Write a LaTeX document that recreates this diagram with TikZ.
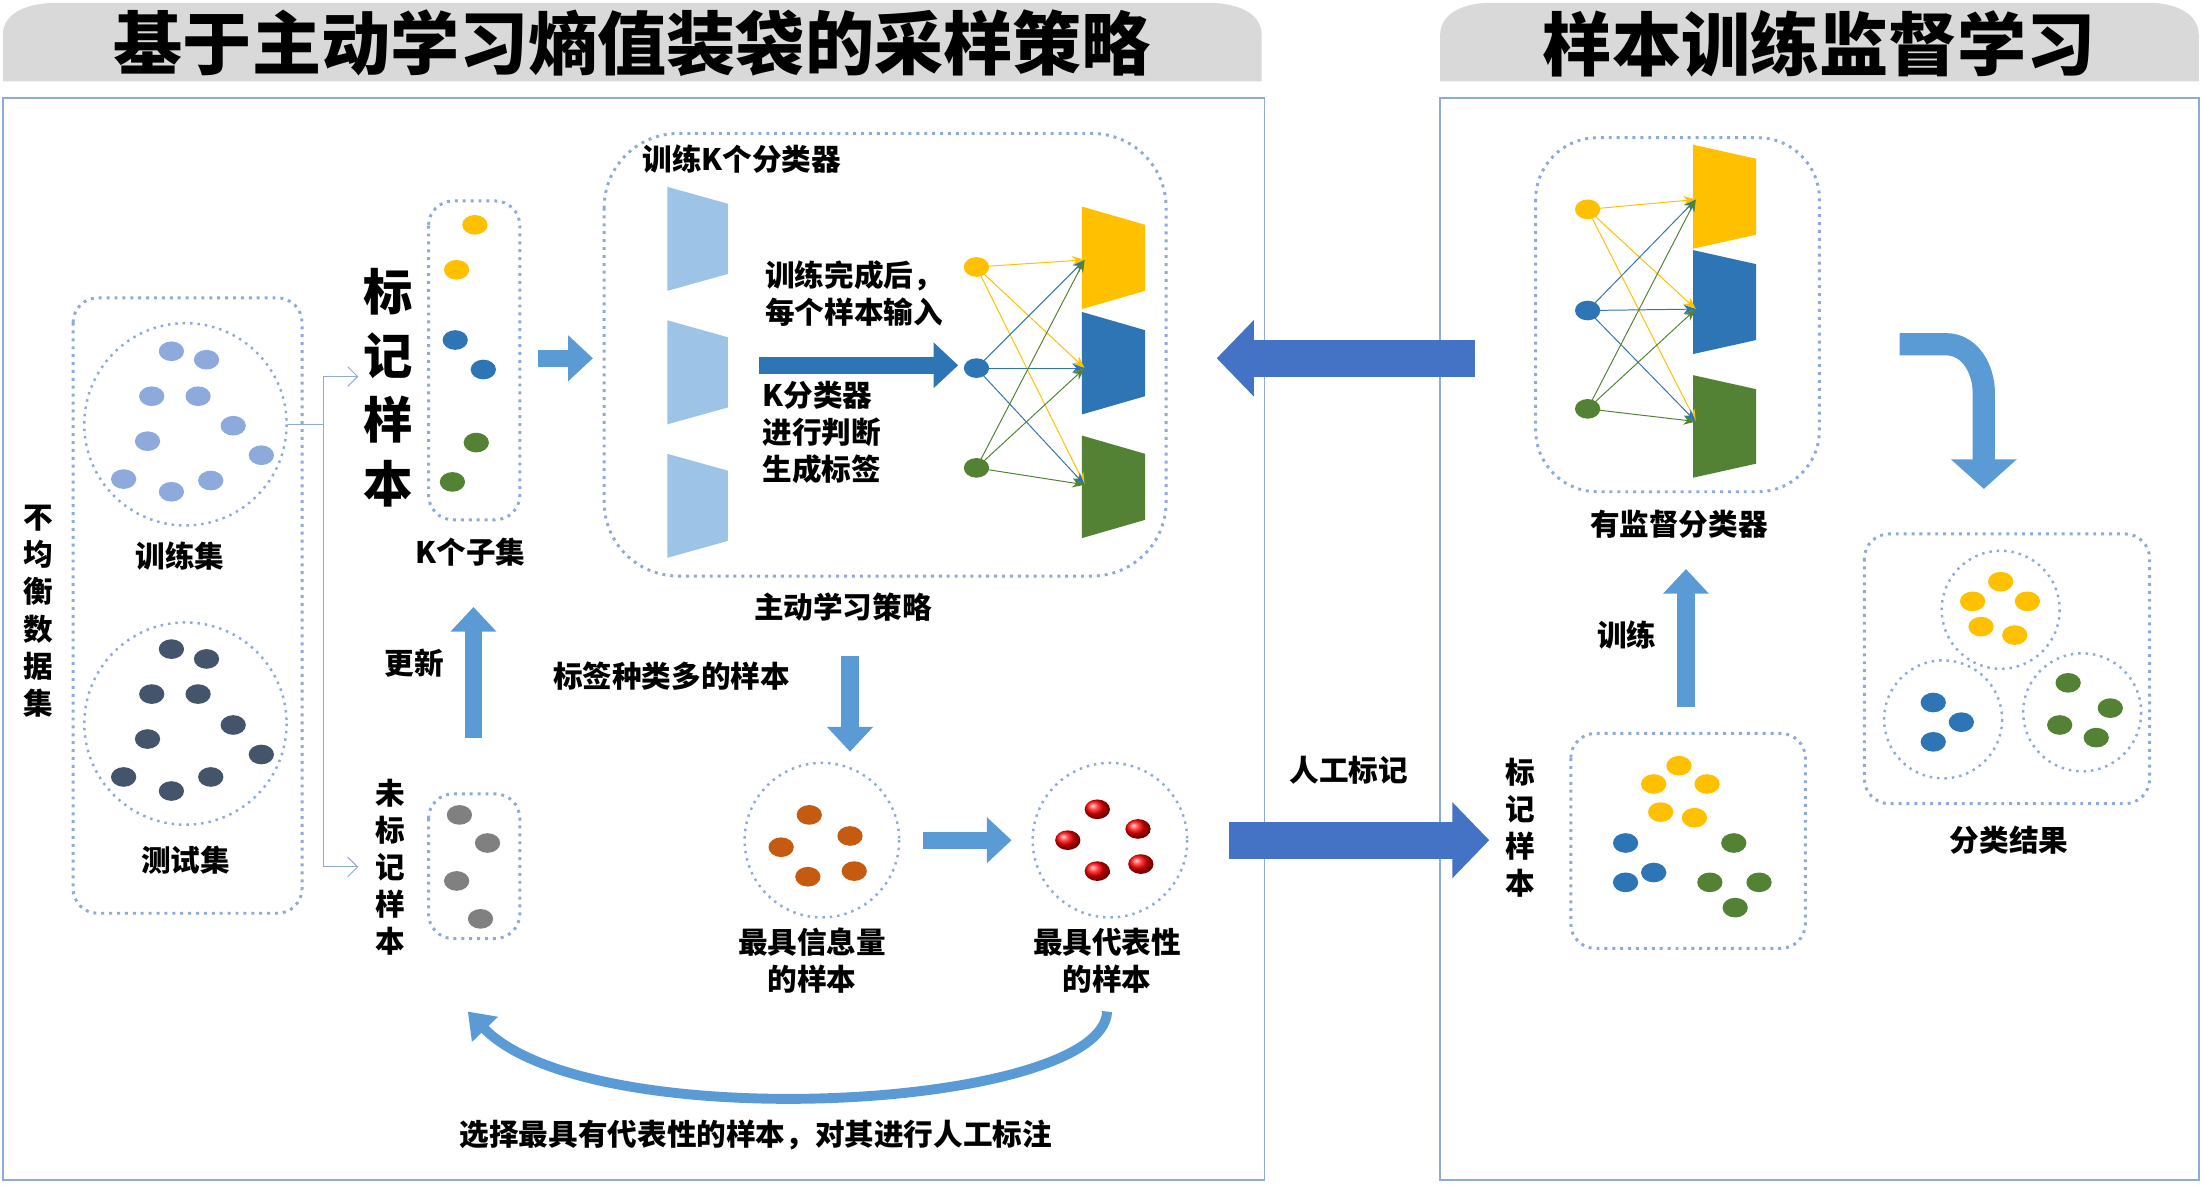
\documentclass[tikz,border=0pt]{standalone}
\usepackage{fontspec}
\setmainfont{Noto Sans CJK SC}
\usetikzlibrary{positioning, arrows.meta, calc, shapes.geometric}
\definecolor{frameblue}{HTML}{8EA9DB}
\definecolor{ybl}{HTML}{FFC000}
\definecolor{mbl}{HTML}{2E75B6}
\definecolor{gbl}{HTML}{548235}
\definecolor{ltb}{HTML}{9DC3E6}
\definecolor{abl}{HTML}{4472C4}
\definecolor{sbl}{HTML}{5B9BD5}
\definecolor{dgr}{HTML}{44546A}
\definecolor{org}{HTML}{C55A11}
\tikzset{
  lbl/.style={font=\bfseries\fontsize{12}{15}\selectfont, align=center},
  panel/.style={draw=frameblue, line width=0.8pt},
  dotbox/.style={draw=frameblue, dotted, line width=1.2pt, rounded corners=10pt},
  dotcirc/.style={draw=frameblue, dotted, line width=1pt},
  blk/.style={-{Triangle[length=10pt, width=18pt]}, line width=7pt, color=sbl},
}
\newcommand{\dotat}[3]{\fill[#1] (#2,#3) ellipse (9 and 7);}
\begin{document}
\begin{tikzpicture}[x=0.02cm, y=-0.02cm]
\useasboundingbox (0,0) rectangle (1568,843);
% title tabs
\fill[gray!30] (2,58) -- (2,25) to[out=90,in=180] (40,2) -- (860,2) to[out=0,in=90] (898,25) -- (898,58) -- cycle;
\node[font=\bfseries\fontsize{28}{32}\selectfont] (t1) at (450,31) {基于主动学习熵值装袋的采样策略};
\fill[gray!30] (1025,58) -- (1025,25) to[out=90,in=180] (1060,2) -- (1530,2) to[out=0,in=90] (1565,25) -- (1565,58) -- cycle;
\node[font=\bfseries\fontsize{28}{32}\selectfont] (t2) at (1295,31) {样本训练监督学习};
\draw[panel] (2,70) rectangle (900,840);
\draw[panel] (1025,70) rectangle (1565,840);

% data set
\node[lbl, align=center] (dset) at (27,435) {不\\均\\衡\\数\\据\\集};
\draw[dotbox] (52,212) rectangle (215,650);
\draw[dotcirc] (132,302) circle (72);
\foreach \x/\y in {122/250,147/256,108/282,141/282,166/303,105/314,186/324,88/341,122/350,150/342}
  {\dotat{frameblue}{\x}{\y}}
\node[lbl] (train) at (128,396) {训练集};
\draw[dotcirc] (132,515) circle (72);
\foreach \x/\y in {122/462,147/469,108/494,141/494,166/516,105/526,186/537,88/553,122/563,150/553}
  {\dotat{dgr}{\x}{\y}}
\node[lbl] (test) at (132,612) {测试集};
\coordinate (split) at (230,302);
\coordinate (up) at (255,268);
\coordinate (dn) at (255,617);
\draw[frameblue] (205,302) -- (split);
\draw[frameblue, -{Straight Barb[length=4pt]}] (split) |- (up);
\draw[frameblue, -{Straight Barb[length=4pt]}] (split) |- (dn);

% labelled subsets
\node[font=\bfseries\fontsize{20}{26}\selectfont, align=center] (lab) at (276,276) {标\\记\\样\\本};
\draw[dotbox] (305,143) rectangle (370,370);
\dotat{ybl}{338}{160} \dotat{ybl}{325}{192}
\dotat{mbl}{324}{242} \dotat{mbl}{344}{263}
\dotat{gbl}{339}{315} \dotat{gbl}{322}{343}
\node[lbl] (ksub) at (335,393) {K个子集};
\coordinate (a1) at (383,255); \coordinate (a2) at (422,255);
\draw[blk] (a1) -- (a2);

% active learning
\draw[dotbox, rounded corners=30pt] (430,95) rectangle (830,410);
\node[lbl] (tk) at (528,113) {训练K个分类器};
\foreach \y in {133,228,323}
  {\fill[ltb] (475,\y) -- (518,\y+12) -- (518,\y+62) -- (475,\y+74) -- cycle;}
\node[lbl, align=left] (done) at (608,209) {训练完成后，\\每个样本输入};
\coordinate (b1) at (540,260); \coordinate (b2) at (682,260);
\draw[blk, color=mbl] (b1) -- (b2);
\node[lbl, align=left] (kc) at (585,308) {K分类器\\进行判断\\生成标签};
\fill[ybl] (770,147) -- (815,160) -- (815,207) -- (770,220) -- cycle;
\fill[mbl] (770,222) -- (815,235) -- (815,282) -- (770,295) -- cycle;
\fill[gbl] (770,310) -- (815,323) -- (815,370) -- (770,383) -- cycle;
\coordinate (n1) at (695,190); \coordinate (n2) at (695,262); \coordinate (n3) at (695,333);
\coordinate (o1) at (772,185); \coordinate (o2) at (772,262); \coordinate (o3) at (772,345);
\foreach \n/\c in {n1/ybl,n2/mbl,n3/gbl}
  {\foreach \o in {o1,o2,o3}
    {\draw[\c, -{Stealth[length=5pt]}] (\n) -- (\o);}}
\dotat{ybl}{695}{190} \dotat{mbl}{695}{262} \dotat{gbl}{695}{333}
\node[lbl] (als) at (600,432) {主动学习策略};

% unlabelled
\node[lbl] (upd) at (295,472) {更新};
\coordinate (c1) at (337,525); \coordinate (c2) at (337,432);
\draw[blk] (c1) -- (c2);
\node[lbl, align=center] (unl) at (278,617) {未\\标\\记\\样\\本};
\draw[dotbox] (305,565) rectangle (370,668);
\foreach \x/\y in {327/580,347/600,325/627,342/654}
  {\dotat{gray}{\x}{\y}}
\node[lbl] (many) at (478,481) {标签种类多的样本};
\coordinate (d1) at (605,467); \coordinate (d2) at (605,535);
\draw[blk] (d1) -- (d2);
\draw[dotcirc] (585,598) circle (55);
\foreach \x/\y in {576/580,556/603,605/595,575/624,608/620}
  {\dotat{org}{\x}{\y}}
\node[lbl] (info) at (578,684) {最具信息量\\的样本};
\coordinate (e1) at (657,598); \coordinate (e2) at (720,598);
\draw[blk] (e1) -- (e2);
\draw[dotcirc] (790,598) circle (55);
\foreach \x/\y in {781/576,810/590,760/598,812/615,781/620}
  {\shade[ball color=red] (\x,\y) ellipse (9 and 7);}
\node[lbl] (rep) at (788,684) {最具代表性\\的样本};
\coordinate (f1) at (788,720); \coordinate (f2) at (333,720);
\draw[line width=4pt, color=sbl, -{Triangle[length=10pt, width=14pt]}] (f1) .. controls (785,790) and (420,810) .. (f2);
\node[lbl] (sel) at (538,808) {选择最具有代表性的样本，对其进行人工标注};

% connecting arrows
\coordinate (g1) at (1050,255); \coordinate (g2) at (866,255);
\draw[abl, line width=15pt, -{Triangle[length=15pt, width=30pt]}] (g1) -- (g2);
\coordinate (h1) at (875,598); \coordinate (h2) at (1060,598);
\draw[abl, line width=15pt, -{Triangle[length=15pt, width=30pt]}] (h1) -- (h2);
\node[lbl] (man) at (960,548) {人工标记};

% supervised
\draw[dotbox, rounded corners=25pt] (1093,98) rectangle (1295,350);
\fill[ybl] (1205,103) -- (1250,113) -- (1250,167) -- (1205,177) -- cycle;
\fill[mbl] (1205,178) -- (1250,188) -- (1250,242) -- (1205,252) -- cycle;
\fill[gbl] (1205,267) -- (1250,277) -- (1250,330) -- (1205,340) -- cycle;
\coordinate (m1) at (1130,149); \coordinate (m2) at (1130,221); \coordinate (m3) at (1130,291);
\coordinate (p1) at (1207,142); \coordinate (p2) at (1207,220); \coordinate (p3) at (1207,300);
\foreach \n/\c in {m1/ybl,m2/mbl,m3/gbl}
  {\foreach \o in {p1,p2,p3}
    {\draw[\c, -{Stealth[length=5pt]}] (\n) -- (\o);}}
\dotat{ybl}{1130}{149} \dotat{mbl}{1130}{221} \dotat{gbl}{1130}{291}
\node[lbl] (sup) at (1195,373) {有监督分类器};
\node[lbl] (trn) at (1158,452) {训练};
\coordinate (k1) at (1200,503); \coordinate (k2) at (1200,405);
\draw[blk] (k1) -- (k2);
\node[lbl, align=center] (lab2) at (1082,589) {标\\记\\样\\本};
\draw[dotbox] (1118,522) rectangle (1285,675);
\foreach \x/\y in {1195/545,1177/558,1215/558,1182/578,1206/582}
  {\dotat{ybl}{\x}{\y}}
\foreach \x/\y in {1157/600,1177/621,1157/628}
  {\dotat{mbl}{\x}{\y}}
\foreach \x/\y in {1234/600,1217/628,1252/628,1235/646}
  {\dotat{gbl}{\x}{\y}}

% result
\coordinate (r1) at (1352,245); \coordinate (r2) at (1412,348);
\draw[sbl, line width=9pt, -{Triangle[length=12pt, width=26pt]}] (r1) -- (1385,245) to[out=0,in=90] (1412,280) -- (r2);
\draw[dotbox] (1327,380) rectangle (1530,572);
\draw[dotcirc] (1424,434) circle (42);
\draw[dotcirc] (1383,512) circle (42);
\draw[dotcirc] (1482,507) circle (42);
\foreach \x/\y in {1424/414,1404/428,1443/428,1410/446,1434/452}
  {\dotat{ybl}{\x}{\y}}
\foreach \x/\y in {1376/500,1396/514,1376/528}
  {\dotat{mbl}{\x}{\y}}
\foreach \x/\y in {1472/486,1502/504,1466/516,1492/525}
  {\dotat{gbl}{\x}{\y}}
\node[lbl] (res) at (1430,598) {分类结果};
\end{tikzpicture}
\end{document}
